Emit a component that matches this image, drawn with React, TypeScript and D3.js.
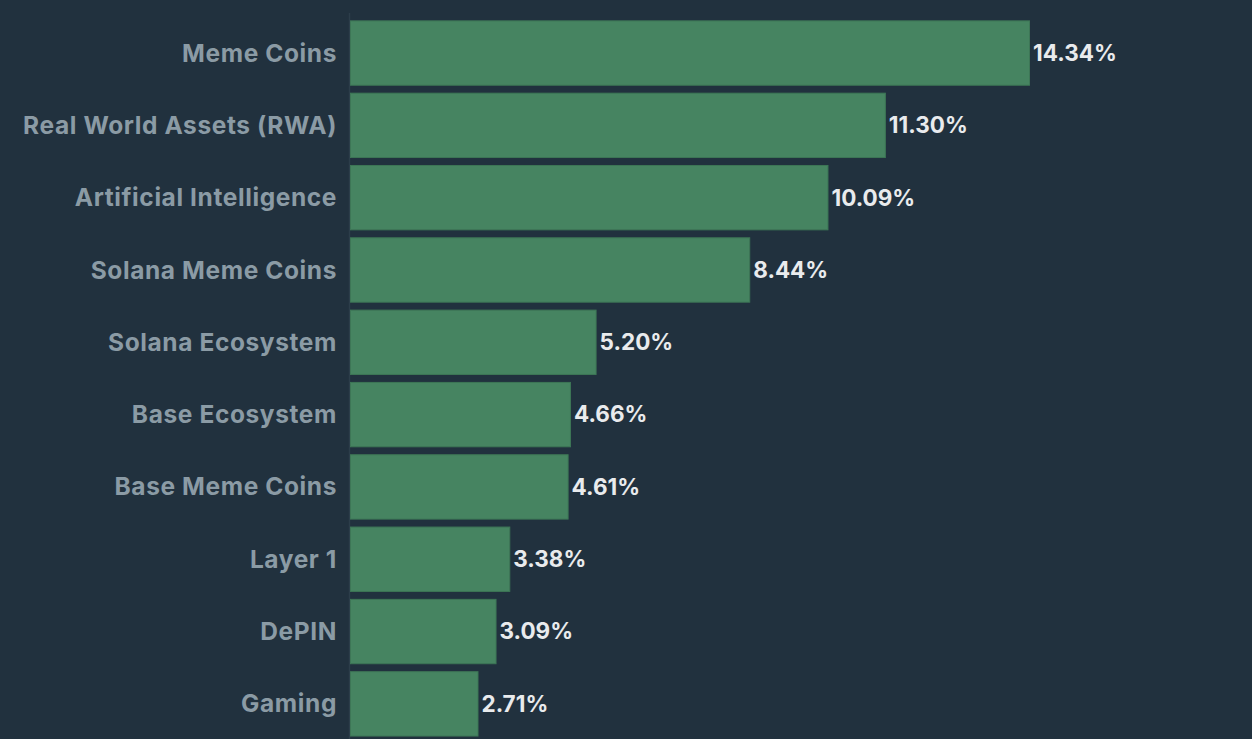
import { useEffect, useRef } from 'react';
import * as d3 from 'd3';

const categories = [
  'Meme Coins',
  'Real World Assets (RWA)',
  'Artificial Intelligence',
  'Solana Meme Coins',
  'Solana Ecosystem',
  'Base Ecosystem',
  'Base Meme Coins',
  'Layer 1',
  'DePIN',
  'Gaming',
];
const shares = [14.34, 11.3, 10.09, 8.44, 5.2, 4.66, 4.61, 3.38, 3.09, 2.71];

const W = 1252;
const H = 739;

const App = () => {
  const svgRef = useRef(null);

  useEffect(() => {
    const svg = d3.select(svgRef.current);
    svg.selectAll('*').remove();

    const rows = categories.map((c, i) => ({ name: c, value: shares[i] }));

    // x: 0 -> bar start at 350, 14.34% ends near 1030
    const x = d3.scaleLinear().domain([0, 14.34]).range([350, 1030]);
    const y = d3.scaleBand()
      .domain(categories)
      .range([12.9, 744])
      .padding(0.11);

    svg.append('rect').attr('width', W).attr('height', H).attr('fill', '#21313e');

    // faint axis line
    svg.append('line')
      .attr('x1', 349.5).attr('x2', 349.5)
      .attr('y1', 13).attr('y2', H)
      .attr('stroke', '#2c3d4a')
      .attr('stroke-width', 1.5);

    svg.selectAll('.bar')
      .data(rows)
      .enter()
      .append('rect')
      .attr('class', 'bar')
      .attr('x', x(0) + 0.5)
      .attr('y', d => y(d.name))
      .attr('width', d => x(d.value) - x(0) - 1)
      .attr('height', y.bandwidth())
      .attr('fill', '#468461')
      .attr('stroke', '#3d7656')
      .attr('stroke-width', 1);

    svg.selectAll('.cat')
      .data(rows)
      .enter()
      .append('text')
      .attr('class', 'cat')
      .attr('x', 337)
      .attr('y', d => y(d.name) + y.bandwidth() / 2)
      .attr('dy', '0.35em')
      .attr('text-anchor', 'end')
      .attr('font-family', 'Inter, sans-serif')
      .attr('font-weight', 700)
      .attr('font-size', 24.5)
      .attr('letter-spacing', 0.6)
      .attr('fill', '#8b9ba5')
      .text(d => d.name);

    svg.selectAll('.val')
      .data(rows)
      .enter()
      .append('text')
      .attr('class', 'val')
      .attr('x', d => x(d.value) + 3)
      .attr('y', d => y(d.name) + y.bandwidth() / 2)
      .attr('dy', '0.35em')
      .attr('font-family', 'Inter, sans-serif')
      .attr('font-weight', 700)
      .attr('font-size', 22.5)
      .attr('fill', '#e9ebed')
      .text(d => d.value.toFixed(2) + '%');
  }, []);

  return (
    <div style={{ position: 'fixed', left: 0, top: 0, width: W, height: H, background: '#21313e' }}>
      <svg ref={svgRef} width={W} height={H} style={{ display: 'block' }} />
    </div>
  );
};

export default App;
